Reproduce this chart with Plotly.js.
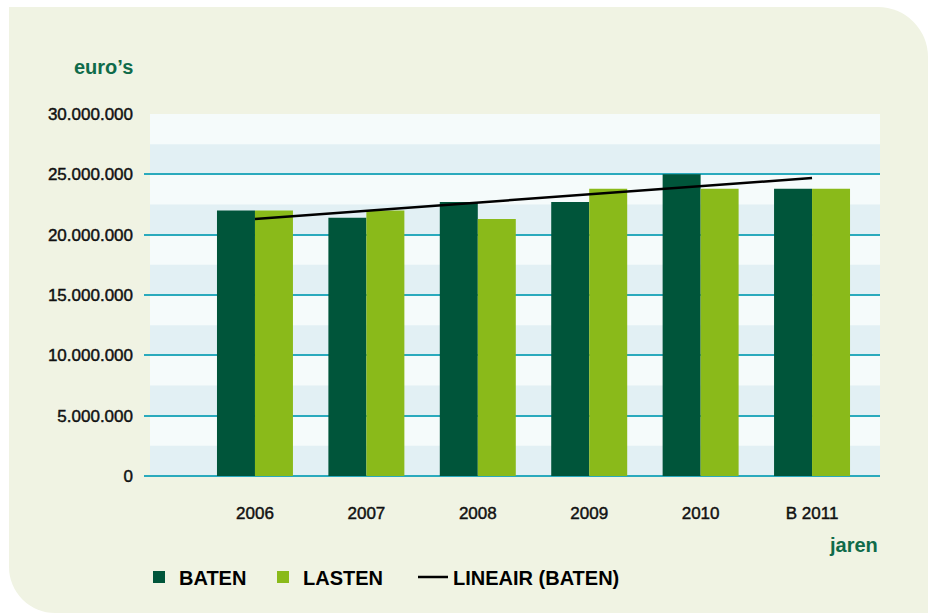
<!DOCTYPE html>
<html>
<head>
<meta charset="utf-8">
<script src="https://cdn.plot.ly/plotly-3.0.1.min.js"></script>
<style>
  html, body { margin: 0; padding: 0; background: #ffffff; }
  #panel { position: absolute; left: 9px; top: 7px; width: 919px; height: 606px;
           background: #f0f3e3; border-radius: 0 50px 0 46px; }
  #chart { position: absolute; left: 0; top: 0; width: 928px; height: 613px; }
  #chart .xtick text, #chart .ytick text { stroke: #111111; stroke-width: 0.45px; }
</style>
</head>
<body>
<div id="panel"></div>
<div id="chart"></div>
<script>
// ---- data ----
const years = ['2006', '2007', '2008', '2009', '2010', 'B 2011'];
const baten = [22000000, 21400000, 22700000, 22700000, 25000000, 23800000];
const lasten = [22000000, 22000000, 21300000, 23800000, 23800000, 23800000];
const trendYears = ['2006', 'B 2011'];
const trendValues = [21300000, 24700000];
const yTicks = [0, 5000000, 10000000, 15000000, 20000000, 25000000, 30000000];

const darkGreen = '#00553a';
const lightGreen = '#8aba1a';
const gridTeal = '#2aaabd';

// background bands (lower half of every 5M interval slightly darker)
const shapes = [{
  type: 'rect', xref: 'paper', yref: 'y', x0: 6 / 736, x1: 1, y0: 0, y1: 30000000,
  fillcolor: '#f5fbfb', line: { width: 0 }, layer: 'below'
}];
for (let i = 0; i < yTicks.length - 1; i++) {
  const lo = yTicks[i], hi = yTicks[i + 1];
  shapes.push({
    type: 'rect', xref: 'paper', yref: 'y', x0: 6 / 736, x1: 1, y0: lo, y1: (lo + hi) / 2,
    fillcolor: '#e2f0f4', line: { width: 0 }, layer: 'below'
  });
}

const legendFont = { family: 'Liberation Sans, Arial, sans-serif', size: 20, color: '#000000', weight: 'bold' };
function legendAt(px) {
  return {
    xref: 'container', yref: 'container', x: px / 928, y: 1 - 577 / 613,
    xanchor: 'left', yanchor: 'middle', orientation: 'h',
    bgcolor: 'rgba(0,0,0,0)', font: legendFont
  };
}

const traces = [
  { type: 'bar', name: 'BATEN', x: years, y: baten, marker: { color: darkGreen },
    legend: 'legend', hoverinfo: 'skip' },
  { type: 'bar', name: 'LASTEN', x: years, y: lasten, marker: { color: lightGreen },
    legend: 'legend2', hoverinfo: 'skip' },
  { type: 'scatter', mode: 'lines', name: 'LINEAIR (BATEN)', x: trendYears, y: trendValues,
    line: { color: '#000000', width: 2.5 }, legend: 'legend3', hoverinfo: 'skip' }
];

const tickFont = { family: 'Liberation Sans, Arial, sans-serif', size: 17, color: '#111111' };

const layout = {
  width: 928, height: 613,
  margin: { l: 144, r: 48, t: 114, b: 137 },
  paper_bgcolor: 'rgba(0,0,0,0)',
  plot_bgcolor: 'rgba(0,0,0,0)',
  separators: ',.',
  barmode: 'group',
  bargap: 0.318,
  bargroupgap: 0,
  showlegend: true,
  legend: legendAt(139),
  legend2: legendAt(263),
  legend3: legendAt(413),
  xaxis: {
    type: 'category', categoryorder: 'array', categoryarray: years,
    range: [-0.996, 5.61], showgrid: false, zeroline: false, showline: false,
    ticks: '', tickfont: tickFont, ticklabelstandoff: 25, fixedrange: true
  },
  yaxis: {
    range: [0, 30000000], tickvals: yTicks, tickformat: ',d',
    showgrid: true, gridcolor: gridTeal, gridwidth: 2,
    zeroline: true, zerolinecolor: gridTeal, zerolinewidth: 2,
    showline: false, ticks: '', tickfont: tickFont, ticklabelstandoff: 10, fixedrange: true
  },
  shapes: shapes,
  annotations: [
    { xref: 'paper', yref: 'paper', x: -72 / 736, y: 1 + (114 - 67) / 362,
      xanchor: 'left', yanchor: 'middle', showarrow: false, text: 'euro’s',
      font: { family: 'Liberation Sans, Arial, sans-serif', size: 20, color: '#0f6b4a', weight: 'bold' } },
    { xref: 'paper', yref: 'paper', x: 1, y: -(545 - 476) / 362,
      xanchor: 'right', yanchor: 'middle', showarrow: false, text: 'jaren',
      font: { family: 'Liberation Sans, Arial, sans-serif', size: 20, color: '#0f6b4a', weight: 'bold' } }
  ]
};

Plotly.newPlot('chart', traces, layout, { displayModeBar: false, staticPlot: true });
</script>
</body>
</html>
